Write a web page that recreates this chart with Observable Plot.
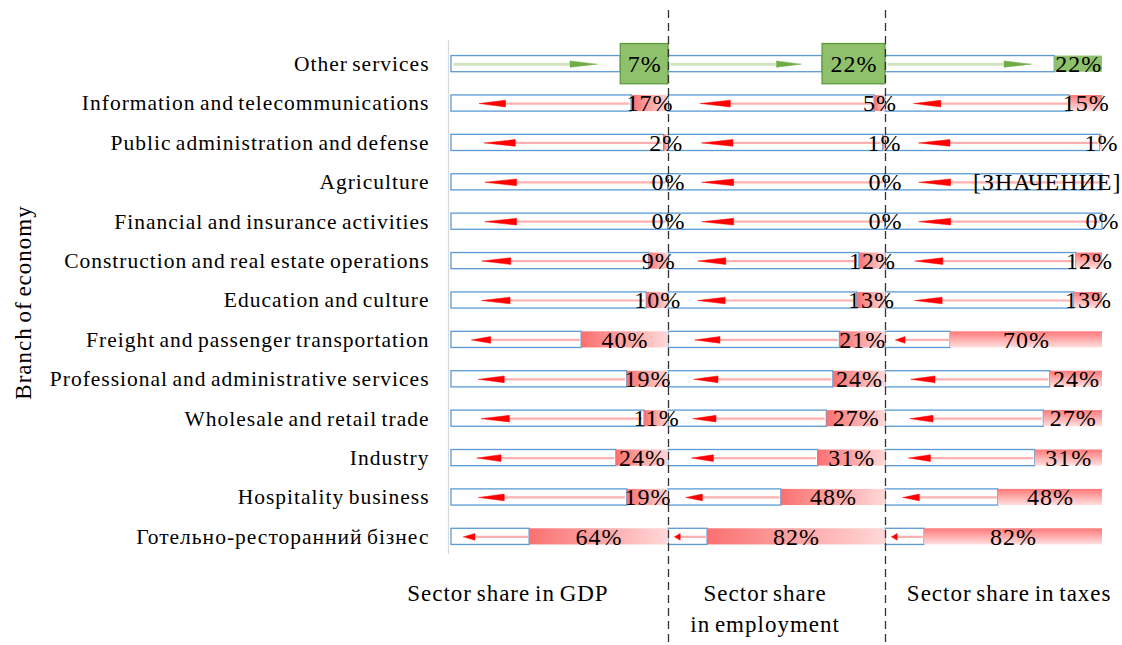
<!DOCTYPE html>
<html><head><meta charset="utf-8">
<script src="https://cdn.jsdelivr.net/npm/d3@7"></script>
<script src="https://cdn.jsdelivr.net/npm/@observablehq/plot@0.6"></script>
<style>
body{margin:0;background:#fff;}
#chart svg{overflow:visible;}
#chart svg text{letter-spacing:1px;word-spacing:-2px;}
</style></head><body><div id="chart"></div>
<script>
const categories = [
  "Other services",
  "Information and telecommunications",
  "Public administration and defense",
  "Agriculture",
  "Financial and insurance activities",
  "Construction and real estate operations",
  "Education and culture",
  "Freight and passenger transportation",
  "Professional and administrative services",
  "Wholesale and retail trade",
  "Industry",
  "Hospitality business",
  "Готельно-ресторанний бізнес"
];
const panels = ["Sector share in GDP", "Sector share\nin employment", "Sector share in taxes"];
const gdp        = [7, 17, 2, 0, 0, 9, 10, 40, 19, 11, 24, 19, 64];
const employment = [22, 5, 1, 0, 0, 12, 13, 21, 24, 27, 31, 48, 82];
const taxes      = [22, 15, 1, 0, 0, 12, 13, 70, 24, 27, 31, 48, 82];
const gdpLabels        = gdp.map(v => v + "%");
const employmentLabels = employment.map(v => v + "%");
const taxesLabels      = ["22%", "15%", "1%", "[ЗНАЧЕНИЕ]", "0%", "12%", "13%", "70%", "24%", "27%", "31%", "48%", "82%"];
const growth = [true, false, false, false, false, false, false, false, false, false, false, false, false];
const axisTitle = "Branch of economy";

const series = [gdp, employment, taxes];
const seriesLabels = [gdpLabels, employmentLabels, taxesLabels];

const rows = [];
panels.forEach((p, k) => series[k].forEach((v, i) => {
  const up = growth[i];
  const label = seriesLabels[k][i];
  const boxed = up && k < 2;
  const box = label.length * 7 + 8;
  const end = boxed ? box : v;
  const L = 100 - end;
  rows.push({panel: p, k, i, v, label, up, boxed, box, end, L});
}));

const BH = 0.205;  // half bar height (rows)
const heads = [];
const shafts = [];
rows.forEach((d, n) => {
  if (d.up) {
    const start = 100 - 0.015 * d.L, tip = 100 - 0.86 * d.L, base = 100 - 0.70 * d.L, h = 0.08;
    shafts.push({panel: d.panel, id: n, x1: start, x2: base, i: d.i, up: true});
    [[tip, d.i], [base, d.i - h], [base, d.i + h], [tip, d.i]].forEach(([x, y]) => heads.push({panel: d.panel, id: n, x, y, up: true}));
  } else {
    const tip = 100 - 0.155 * d.L, base = 100 - 0.30 * d.L, h = 0.085;
    shafts.push({panel: d.panel, id: n, x1: base, x2: d.end + 0.01 * d.L, i: d.i, up: false});
    [[tip, d.i], [base, d.i - h], [base, d.i + h], [tip, d.i]].forEach(([x, y]) => heads.push({panel: d.panel, id: n, x, y, up: false}));
  }
});

const font = "'Liberation Serif', 'Times New Roman', serif";

const chart = Plot.plot({
  width: 1122,
  height: 645,
  marginLeft: 450,
  marginRight: 19,
  marginTop: 40,
  marginBottom: 85,
  style: {fontFamily: font, background: "white", color: "black", overflow: "visible"},
  fx: {domain: panels, padding: 0, axis: null},
  x: {domain: [0, 100], reverse: true, axis: null},
  y: {domain: [-0.6, 12.6], reverse: true},
  marks: [
    // light axis line
    Plot.ruleX([{fx: panels[0], x: 100}], {fx: "fx", x: "x", y1: -0.6, y2: 12.45, stroke: "#d9d9d9", strokeWidth: 1.2, dx: -3}),
    // empty outlined part of each bar
    Plot.rect(rows.filter(d => d.L > 0), {fx: "panel", x1: 100, x2: "end", y1: d => d.i - BH, y2: d => d.i + BH,
      fill: "white", stroke: "#5b9bd5", strokeWidth: 1.3}),
    // red fills
    Plot.rect(rows.filter(d => !d.up && d.v > 0 && d.k < 2), {fx: "panel", x1: 0, x2: "v", y1: d => d.i - BH, y2: d => d.i + BH,
      fill: "url(#redH)"}),
    Plot.rect(rows.filter(d => !d.up && d.v > 0 && d.k === 2), {fx: "panel", x1: 0, x2: "v", y1: d => d.i - BH, y2: d => d.i + BH,
      fill: "url(#redV)"}),
    // green fill (unboxed)
    Plot.rect(rows.filter(d => d.up && !d.boxed), {fx: "panel", x1: 0, x2: "v", y1: d => d.i - BH, y2: d => d.i + BH,
      fill: "#8fc16c"}),
    // arrow shafts
    Plot.ruleY(shafts.filter(d => !d.up), {fx: "panel", y: "i", x1: "x1", x2: "x2", stroke: "#ffb0b0", strokeWidth: 2.2}),
    Plot.ruleY(shafts.filter(d => d.up), {fx: "panel", y: "i", x1: "x1", x2: "x2", stroke: "#cfe4bf", strokeWidth: 3}),
    // arrow heads
    Plot.line(heads.filter(d => !d.up), {fx: "panel", x: "x", y: "y", z: "id", fill: "#ff0000", stroke: "#ff0000", strokeWidth: 0.5}),
    Plot.line(heads.filter(d => d.up), {fx: "panel", x: "x", y: "y", z: "id", fill: "#70ad47", stroke: "#70ad47", strokeWidth: 0.5}),
    // green label boxes
    Plot.rect(rows.filter(d => d.boxed), {fx: "panel", x1: 0, x2: "box", y1: d => d.i - 0.51, y2: d => d.i + 0.51,
      fill: "#8fc16c", stroke: "#5f9a3c", strokeWidth: 1.3}),
    // value labels
    Plot.text(rows.filter(d => d.label.length < 6), {fx: "panel", x: d => d.boxed ? d.box / 2 : d.v / 2, y: "i", text: "label",
      fontSize: 24, fill: "black"}),
    Plot.text(rows.filter(d => d.label.length >= 6), {fx: "panel", x: d => d.v / 2, y: "i", text: "label",
      fontSize: 24, fill: "black", textAnchor: "end", dx: 19}),
    // dashed separators
    Plot.ruleX([{fx: panels[0]}, {fx: panels[1]}], {fx: "fx", x: () => 0, y1: -1.36, y2: 14.8,
      stroke: "#333", strokeWidth: 1.3, strokeDasharray: "8,5"}),
    // category axis
    Plot.axisY({ticks: d3.range(categories.length), tickFormat: i => categories[i], tickSize: 0, tickPadding: 22,
      fontSize: 21.5, label: null}),
    // axis title
    Plot.text([{fx: panels[0]}], {fx: "fx", frameAnchor: "left", textAnchor: "middle", text: () => axisTitle, rotate: -90,
      dx: -428, dy: 2, fontSize: 23}),
    // panel titles
    Plot.text([{fx: panels[0], x: 74}, {fx: panels[1], x: 55.5}, {fx: panels[2], x: 43}], {fx: "fx", x: "x", frameAnchor: "bottom",
      text: "fx", lineAnchor: "top", dy: 18, fontSize: 23, lineHeight: 1.35})
  ]
});

const svg = d3.select(chart);
const defs = svg.insert("defs", ":first-child");
const gh = defs.append("linearGradient").attr("id", "redH").attr("x1", "0").attr("x2", "1").attr("y1", "0").attr("y2", "0");
gh.append("stop").attr("offset", "0").attr("stop-color", "#fa7070");
gh.append("stop").attr("offset", "1").attr("stop-color", "#ffd8d8");
const gv = defs.append("linearGradient").attr("id", "redV").attr("x1", "0").attr("x2", "0").attr("y1", "0").attr("y2", "1");
gv.append("stop").attr("offset", "0").attr("stop-color", "#ff7878");
gv.append("stop").attr("offset", "1").attr("stop-color", "#ffe0e0");

document.getElementById("chart").appendChild(chart);
</script>
</body></html>
